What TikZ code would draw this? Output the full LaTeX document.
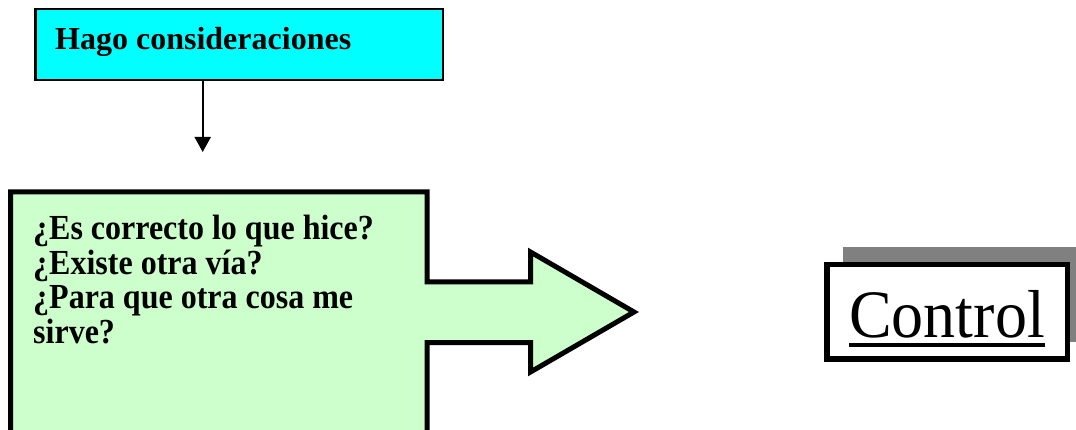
\documentclass[tikz,border=0pt]{standalone}
\usepackage{fontspec}
\setmainfont{Liberation Serif}
\usetikzlibrary{arrows.meta}
\definecolor{cyanfill}{HTML}{00FFFF}
\definecolor{greenfill}{HTML}{CCFFCC}
\definecolor{shadowgray}{HTML}{808080}
\tikzset{
  topbox/.style={draw=black,line width=2.5pt,fill=cyanfill},
  bigshape/.style={draw=black,line width=5pt,fill=greenfill,line join=miter},
  boldtext/.style={font=\fontsize{32}{35}\selectfont\bfseries,inner sep=0pt,align=left},
  flowarrow/.style={draw=black,line width=2pt,-{Triangle[width=16pt,length=15pt]}},
  ctlbox/.style={draw=black,line width=5.5pt,fill=white},
  ctlshadow/.style={fill=shadowgray,draw=none},
}
\begin{document}
\begin{tikzpicture}[x=1pt,y=-1pt]
\useasboundingbox (0,0) rectangle (1076,430);
% top box
\node[topbox,minimum width=407.5pt,minimum height=71pt,inner sep=0pt] (hago) at (239.25,44.5) {};
\node[boldtext,anchor=base west] (hagotxt) at (55,50) {Hago consideraciones};
\coordinate (aend) at (202.7,152);
\draw[flowarrow] (hago.south -| aend) -- (aend);
% green box with arrow
\draw[bigshape] (10.5,192) -- (427,192) -- (427,282) -- (530.5,282) -- (530.5,252)
  -- (634,312) -- (530.5,372) -- (530.5,342.5) -- (427,342.5) -- (427,436)
  -- (10.5,436) -- cycle;
\node[inner sep=0pt,anchor=base west] (qs) at (33,343.5) {\scalebox{1}[1.1]{\begin{minipage}[b]{390pt}\fontsize{32}{31.4}\selectfont\bfseries\raggedright
¿Es correcto lo que hice?\\¿Existe otra vía?\\¿Para que otra cosa me\\sirve?\end{minipage}}};
% control box
\fill[ctlshadow] (843,247.5) rectangle (1083.5,342);
\node[ctlbox,minimum width=240.5pt,minimum height=94.5pt,inner sep=0pt] (ctlbox) at (947.25,311.75) {};
\node[font=\fontsize{64}{70}\selectfont,inner sep=0pt,anchor=base west] (ctl) at (849,337) {\scalebox{1}[1.06]{Control}};
\draw[line width=4.5pt] ([yshift=-8pt]ctl.base west) -- ([yshift=-8pt]ctl.base east);
\end{tikzpicture}
\end{document}
